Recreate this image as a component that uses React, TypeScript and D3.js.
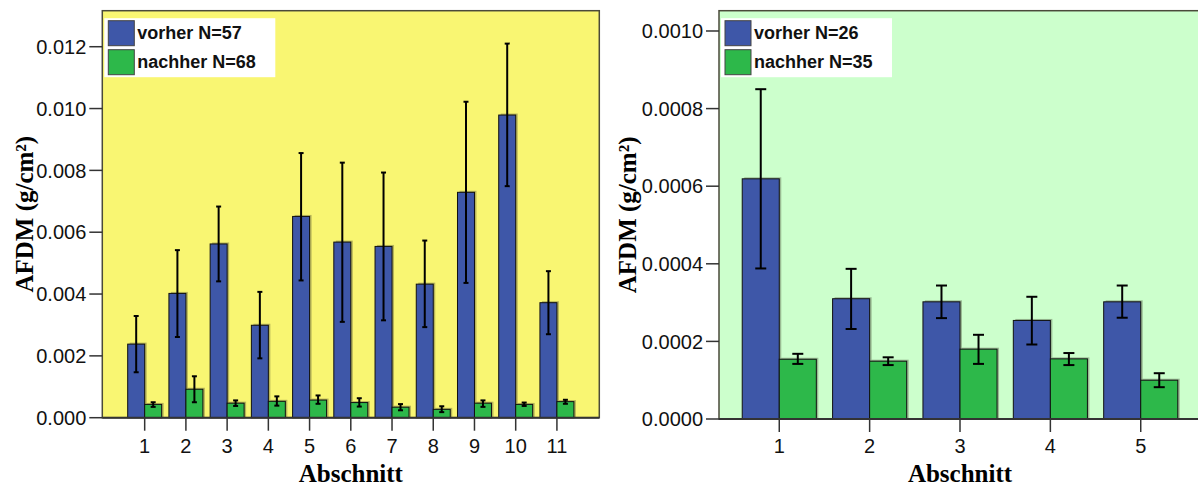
import React from 'react';
import * as d3 from 'd3';

// ---------- data ----------
const sectionsLeft = ['1', '2', '3', '4', '5', '6', '7', '8', '9', '10', '11'];
const vorherLeft = [0.00238, 0.00402, 0.00562, 0.00299, 0.00651, 0.00568, 0.00554, 0.00432, 0.00729, 0.00979, 0.00372];
const vorherLeftLo = [0.00147, 0.00261, 0.00441, 0.00192, 0.00444, 0.0031, 0.00315, 0.00293, 0.00436, 0.00749, 0.0027];
const vorherLeftHi = [0.00329, 0.00542, 0.00683, 0.00407, 0.00856, 0.00825, 0.00793, 0.00573, 0.01022, 0.0121, 0.00474];
const nachherLeft = [0.00043, 0.00092, 0.00047, 0.00053, 0.00057, 0.00049, 0.00034, 0.00027, 0.00047, 0.00043, 0.00052];
const nachherLeftLo = [0.00035, 0.0005, 0.00038, 0.00039, 0.00045, 0.00036, 0.00024, 0.00018, 0.00035, 0.00038, 0.00045];
const nachherLeftHi = [0.0005, 0.00134, 0.00056, 0.00069, 0.00072, 0.00063, 0.00044, 0.00037, 0.00056, 0.00049, 0.00058];
const ticksLeft = [0, 0.002, 0.004, 0.006, 0.008, 0.01, 0.012];
const legendLeft = ['vorher N=57', 'nachher N=68'];

const sectionsRight = ['1', '2', '3', '4', '5'];
const vorherRight = [0.000619, 0.00031, 0.000302, 0.000254, 0.000302];
const vorherRightLo = [0.000388, 0.000232, 0.00026, 0.000192, 0.000261];
const vorherRightHi = [0.00085, 0.000387, 0.000344, 0.000315, 0.000344];
const nachherRight = [0.000154, 0.000149, 0.00018, 0.000155, 0.0001];
const nachherRightLo = [0.000142, 0.000139, 0.000142, 0.000139, 0.000082];
const nachherRightHi = [0.000168, 0.000159, 0.000217, 0.00017, 0.000118];
const ticksRight = [0, 0.0002, 0.0004, 0.0006, 0.0008, 0.001];
const legendRight = ['vorher N=26', 'nachher N=35'];

const yTitle = 'AFDM (g/cm²)';
const xTitle = 'Abschnitt';

// ---------- styles ----------
const BLUE = '#3E57A8';
const GREEN = '#2DB84A';
const SANS = '"Liberation Sans", Arial, sans-serif';
const SERIF = '"Liberation Serif", "Times New Roman", serif';

type PanelProps = {
  x0: number; x1: number; top: number; bottom: number; yMax: number;
  cats: string[];
  a: number[]; aLo: number[]; aHi: number[];
  b: number[]; bLo: number[]; bHi: number[];
  ticks: number[]; fmt: string; legend: string[];
  bg: string; padInner: number; padOuter: number;
  capW: number; errW: number; titleX: number;
};

function Panel(p: PanelProps) {
  const x = d3.scaleBand<string>().domain(p.cats).range([p.x0, p.x1]).paddingInner(p.padInner).paddingOuter(p.padOuter);
  const y = d3.scaleLinear().domain([0, p.yMax]).range([p.bottom, p.top]);
  const bw = x.bandwidth() / 2;
  const f = d3.format(p.fmt);
  const series = [
    { vals: p.a, lo: p.aLo, hi: p.aHi, color: BLUE, off: 0 },
    { vals: p.b, lo: p.bLo, hi: p.bHi, color: GREEN, off: bw },
  ];
  const midY = (p.top + p.bottom) / 2;
  return (
    <g>
      <rect x={p.x0} y={p.top} width={p.x1 - p.x0} height={p.bottom - p.top} fill={p.bg} stroke="#4a4a3a" strokeWidth={1.5} />
      {/* bars */}
      {series.map((s, si) =>
        p.cats.map((c, i) => {
          const bx = (x(c) as number) + s.off;
          const by = y(s.vals[i]);
          return (
            <g key={`${si}-${i}`}>
              <rect x={bx + 2} y={by - 1.5} width={bw} height={p.bottom - by + 1.5} fill="rgba(60,60,40,0.35)" />
              <rect x={bx} y={by} width={bw} height={p.bottom - by} fill={s.color} stroke="#111" strokeWidth={1} />
            </g>
          );
        })
      )}
      {/* error bars */}
      {series.map((s, si) =>
        p.cats.map((c, i) => {
          const cx = (x(c) as number) + s.off + bw / 2;
          const yl = y(s.lo[i]);
          const yh = y(s.hi[i]);
          return (
            <g key={`e${si}-${i}`} stroke="#000" strokeWidth={p.errW}>
              <line x1={cx} x2={cx} y1={yl} y2={yh} />
              <line x1={cx - p.capW / 2} x2={cx + p.capW / 2} y1={yh} y2={yh} />
              <line x1={cx - p.capW / 2} x2={cx + p.capW / 2} y1={yl} y2={yl} />
            </g>
          );
        })
      )}
      {/* axis line */}
      <line x1={p.x0} x2={p.x1} y1={p.bottom} y2={p.bottom} stroke="#333" strokeWidth={2} />
      {/* y ticks */}
      {p.ticks.map((t) => (
        <g key={`yt${t}`}>
          <line x1={p.x0 - 13} x2={p.x0} y1={y(t)} y2={y(t)} stroke="#333" strokeWidth={1.5} />
          <text x={p.x0 - 16} y={y(t)} dy="0.36em" textAnchor="end" fontFamily={SANS} fontSize={20} fill="#111">{f(t)}</text>
        </g>
      ))}
      {/* x ticks */}
      {p.cats.map((c) => {
        const cx = (x(c) as number) + bw;
        return (
          <g key={`xt${c}`}>
            <line x1={cx} x2={cx} y1={p.bottom} y2={p.bottom + 13} stroke="#333" strokeWidth={1.5} />
            <text x={cx} y={453} textAnchor="middle" fontFamily={SANS} fontSize={20} fill="#111">{c}</text>
          </g>
        );
      })}
      {/* titles */}
      <text x={(p.x0 + p.x1) / 2} y={482} textAnchor="middle" fontFamily={SERIF} fontWeight="bold" fontSize={25} fill="#000">{xTitle}</text>
      <text transform={`translate(${p.titleX},${midY}) rotate(-90)`} textAnchor="middle" fontFamily={SERIF} fontWeight="bold" fontSize={25} fill="#000">{yTitle}</text>
      {/* legend */}
      <g>
        <rect x={p.x0 + 2} y={p.top + 7.5} width={171} height={59} fill="#fff" />
        {p.legend.map((l, i) => (
          <g key={l}>
            <rect x={p.x0 + 6} y={p.top + 10 + i * 29} width={26} height={25} fill={i === 0 ? BLUE : GREEN} stroke="#444" strokeWidth={1} />
            <text x={p.x0 + 35} y={p.top + 28.5 + i * 29} fontFamily={SANS} fontWeight="bold" fontSize={18} fill="#111">{l}</text>
          </g>
        ))}
      </g>
    </g>
  );
}

export default function App() {
  return (
    <svg width={1198} height={489} style={{ position: 'absolute', left: 0, top: 0, background: '#fff' }}>
      <Panel
        x0={102.3} x1={599.3} top={10.7} bottom={417.7} yMax={0.013165}
        cats={sectionsLeft}
        a={vorherLeft} aLo={vorherLeftLo} aHi={vorherLeftHi}
        b={nachherLeft} bLo={nachherLeftLo} bHi={nachherLeftHi}
        ticks={ticksLeft} fmt=".3f" legend={legendLeft}
        bg="#F9F672" padInner={0.176} padOuter={0.616}
        capW={5} errW={2} titleX={33}
      />
      <Panel
        x0={719} x1={1201} top={10.7} bottom={419} yMax={0.0010523}
        cats={sectionsRight}
        a={vorherRight} aLo={vorherRightLo} aHi={vorherRightHi}
        b={nachherRight} bLo={nachherRightLo} bHi={nachherRightHi}
        ticks={ticksRight} fmt=".4f" legend={legendRight}
        bg="#CCFFCC" padInner={0.18} padOuter={0.257}
        capW={11} errW={2} titleX={636}
      />
    </svg>
  );
}
